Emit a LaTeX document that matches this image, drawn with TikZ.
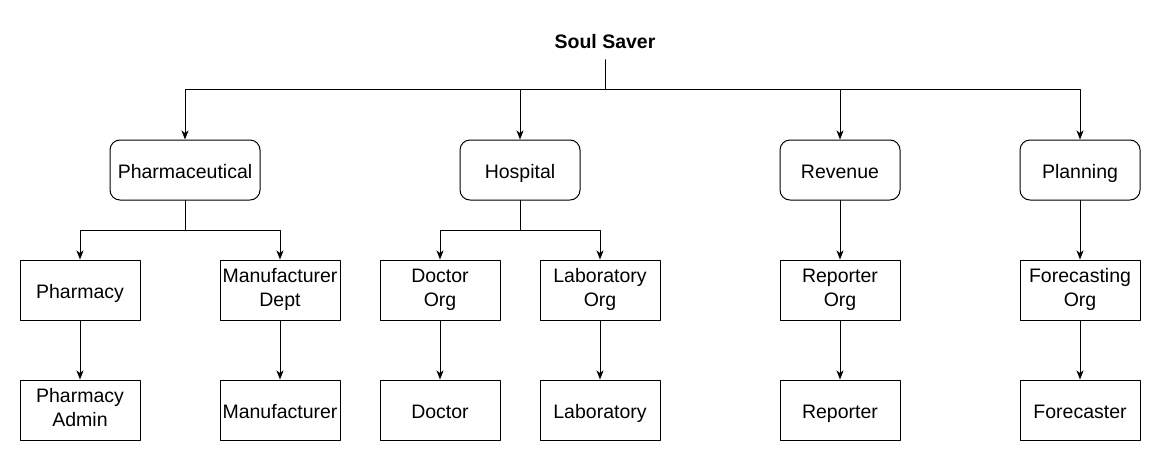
\documentclass[tikz,border=0pt]{standalone}
\usepackage{fontspec}
\setmainfont{Liberation Sans}
\usetikzlibrary{arrows.meta}
\newcommand{\boxstrut}{\rule[-5pt]{0pt}{27pt}}

\begin{document}
\begin{tikzpicture}[line cap=round,line join=round,x=1pt,y=-1pt,
	>={Stealth[length=9pt,width=7pt,inset=2.5pt]},
	every node/.style={font=\fontsize{19.5}{24}\selectfont,align=center,inner sep=0pt,
		execute at begin node=\boxstrut,execute at end node=\boxstrut},
	unit/.style={draw,line width=1pt,rounded corners=10pt,minimum width=120pt,minimum height=60pt},
	role/.style={draw,line width=1pt,minimum width=120pt,minimum height=60pt},
	link/.style={line width=1pt,->}]
	\useasboundingbox (0,0) rectangle (1161,461);
	% top
	\node[font=\fontsize{19.5}{24}\selectfont\bfseries,minimum height=40pt] (soul) at (605,40) {Soul Saver};
	% departments
	\node[unit,minimum width=150pt] (pharma) at (185,170) {Pharmaceutical};
	\node[unit] (hosp) at (520,170) {Hospital};
	\node[unit] (rev) at (840,170) {Revenue};
	\node[unit] (plan) at (1080,170) {Planning};
	% organisations
	\node[role] (pharmacy) at (80,290) {Pharmacy};
	\node[role] (mandept) at (280,290) {Manufacturer\\Dept};
	\node[role] (docorg) at (440,290) {Doctor\\Org};
	\node[role] (laborg) at (600,290) {Laboratory\\Org};
	\node[role] (reporg) at (840,290) {Reporter\\Org};
	\node[role] (fcorg) at (1080,290) {Forecasting\\Org};
	% people
	\node[role] (padmin) at (80,410) {Pharmacy\\Admin};
	\node[role] (manu) at (280,410) {Manufacturer};
	\node[role] (doc) at (440,410) {Doctor};
	\node[role] (lab) at (600,410) {Laboratory};
	\node[role] (rep) at (840,410) {Reporter};
	\node[role] (fc) at (1080,410) {Forecaster};
	% links
	\foreach \d in {pharma,hosp,rev,plan}
		\draw[link] (soul.south) -- ++(0,29) -| (\d.north);
	\foreach \o in {pharmacy,mandept}
		\draw[link] (pharma.south) -- ++(0,30) -| (\o.north);
	\foreach \o in {docorg,laborg}
		\draw[link] (hosp.south) -- ++(0,30) -| (\o.north);
	\draw[link] (rev) -- (reporg);
	\draw[link] (plan) -- (fcorg);
	\draw[link] (pharmacy) -- (padmin);
	\draw[link] (mandept) -- (manu);
	\draw[link] (docorg) -- (doc);
	\draw[link] (laborg) -- (lab);
	\draw[link] (reporg) -- (rep);
	\draw[link] (fcorg) -- (fc);
\end{tikzpicture}
\end{document}
